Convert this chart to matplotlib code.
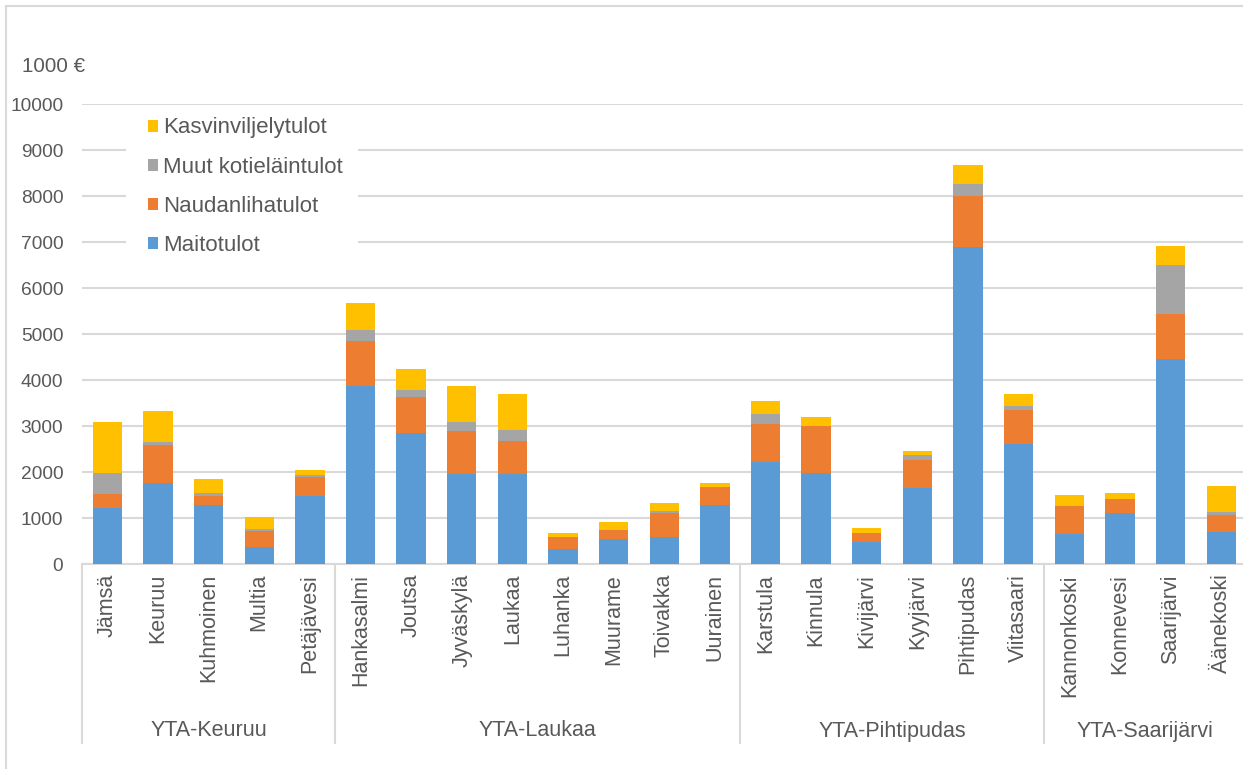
import numpy as np
import matplotlib.pyplot as plt
from matplotlib.lines import Line2D
from matplotlib.patches import Rectangle
from matplotlib.transforms import blended_transform_factory

plt.rcParams['font.family'] = ['Liberation Sans', 'DejaVu Sans']

kunnat = ["Jämsä", "Keuruu", "Kuhmoinen", "Multia", "Petäjävesi",
          "Hankasalmi", "Joutsa", "Jyväskylä", "Laukaa", "Luhanka", "Muurame", "Toivakka", "Uurainen",
          "Karstula", "Kinnula", "Kivijärvi", "Kyyjärvi", "Pihtipudas", "Viitasaari",
          "Kannonkoski", "Konnevesi", "Saarijärvi", "Äänekoski"]
ryhmat = ["YTA-Keuruu", "YTA-Laukaa", "YTA-Pihtipudas", "YTA-Saarijärvi"]
ryhma_koot = [5, 8, 6, 4]

# 1000 €
maito = [1230, 1775, 1290, 385, 1485,
         3875, 2850, 1965, 1965, 340, 545, 595, 1290,
         2230, 1980, 480, 1665, 6900, 2620,
         660, 1110, 4455, 710]
naudanliha = [300, 820, 195, 340, 405,
              980, 795, 930, 715, 250, 205, 520, 395,
              820, 1025, 200, 610, 1115, 725,
              615, 305, 985, 355]
muut = [460, 65, 65, 50, 50,
        240, 140, 200, 235, 5, 5, 50, 5,
        210, 0, 0, 95, 255, 95,
        0, 0, 1065, 70]
kasvi = [1100, 670, 300, 255, 110,
         580, 455, 775, 795, 85, 160, 160, 75,
         290, 190, 115, 95, 410, 270,
         225, 135, 415, 565]

sarjat = [("Maitotulot", maito, "#5B9BD5"),
          ("Naudanlihatulot", naudanliha, "#ED7D31"),
          ("Muut kotieläintulot", muut, "#A5A5A5"),
          ("Kasvinviljelytulot", kasvi, "#FFC000")]

teksti = "#595959"
viiva = "#D9D9D9"

W, H = 1243, 769
fig = plt.figure(figsize=(W / 100, H / 100), dpi=100)

# akselin paikka pikseleinä
x0, x1 = 82, 1246.5
y0, y1 = 564.3, 104.3
ax = fig.add_axes([x0 / W, 1 - y0 / H, (x1 - x0) / W, (y0 - y1) / H])

x = np.arange(len(kunnat))
pohja = np.zeros(len(kunnat))
kahvat = []
for nimi, arvot, vari in sarjat:
    b = ax.bar(x, arvot, width=0.58, bottom=pohja, color=vari, label=nimi, zorder=3)
    pohja += np.array(arvot)
    kahvat.append(b)

ax.set_xlim(-0.5, len(kunnat) - 0.5)
ax.set_ylim(0, 10000)
ax.set_yticks(np.arange(0, 10001, 1000))
ax.yaxis.grid(True, color=viiva, linewidth=1.5, zorder=0)
ax.set_axisbelow(True)
for s in ["top", "right", "left"]:
    ax.spines[s].set_visible(False)
ax.spines["bottom"].set_color(viiva)
ax.spines["bottom"].set_linewidth(1.5)

ax.set_xticks(x)
ax.set_xticklabels(kunnat, rotation=90, va="top", ha="center")
ax.tick_params(axis="x", length=0, pad=7, labelsize=15.5, labelcolor=teksti)
ax.tick_params(axis="y", length=0, pad=13.5, labelsize=13.8, labelcolor=teksti)

# ryhmien erotinviivat ja nimet
tr = blended_transform_factory(ax.transData, ax.transAxes)
ala = -(743 - y0) / (y0 - y1)
raja = -0.5
for nimi, n in zip(ryhmat, ryhma_koot):
    ax.add_line(Line2D([raja, raja], [0, ala], transform=tr, color=viiva,
                       linewidth=1.5, clip_on=False))
    ax.text(raja + n / 2, -(731 - y0) / (y0 - y1), nimi, transform=tr,
            ha="center", va="center", fontsize=15.5, color=teksti)
    raja += n
ax.add_line(Line2D([raja, raja], [0, ala], transform=tr, color=viiva,
                   linewidth=1.5, clip_on=False))

fig.text(22 / W, 1 - 66 / H, "1000 €", ha="left", va="center", fontsize=14.8, color=teksti)

# selitteen valkoinen tausta peittää ruudukon
ax.add_patch(Rectangle((126 / W, 1 - 262 / H), 232 / W, 154 / H, transform=fig.transFigure,
                       facecolor="white", edgecolor="none", zorder=1, clip_on=False))

leg = ax.legend(kahvat[::-1], [s[0] for s in sarjat][::-1],
                loc="upper left", bbox_to_anchor=(147.7 / W, 1 - 117.5 / H),
                bbox_transform=fig.transFigure, fontsize=16,
                handlelength=0.45, handleheight=0.45, handletextpad=0.24,
                labelspacing=0.815, borderpad=0, borderaxespad=0, frameon=False)
for t in leg.get_texts():
    t.set_color(teksti)

# kaavion reunus
fig.add_artist(Line2D([6 / W, 1], [1 - 6 / H, 1 - 6 / H], transform=fig.transFigure,
                      color=viiva, linewidth=1.5))
fig.add_artist(Line2D([6 / W, 6 / W], [0, 1 - 6 / H], transform=fig.transFigure,
                      color=viiva, linewidth=1.5))

fig.savefig("out.png", dpi=100, facecolor="white")
